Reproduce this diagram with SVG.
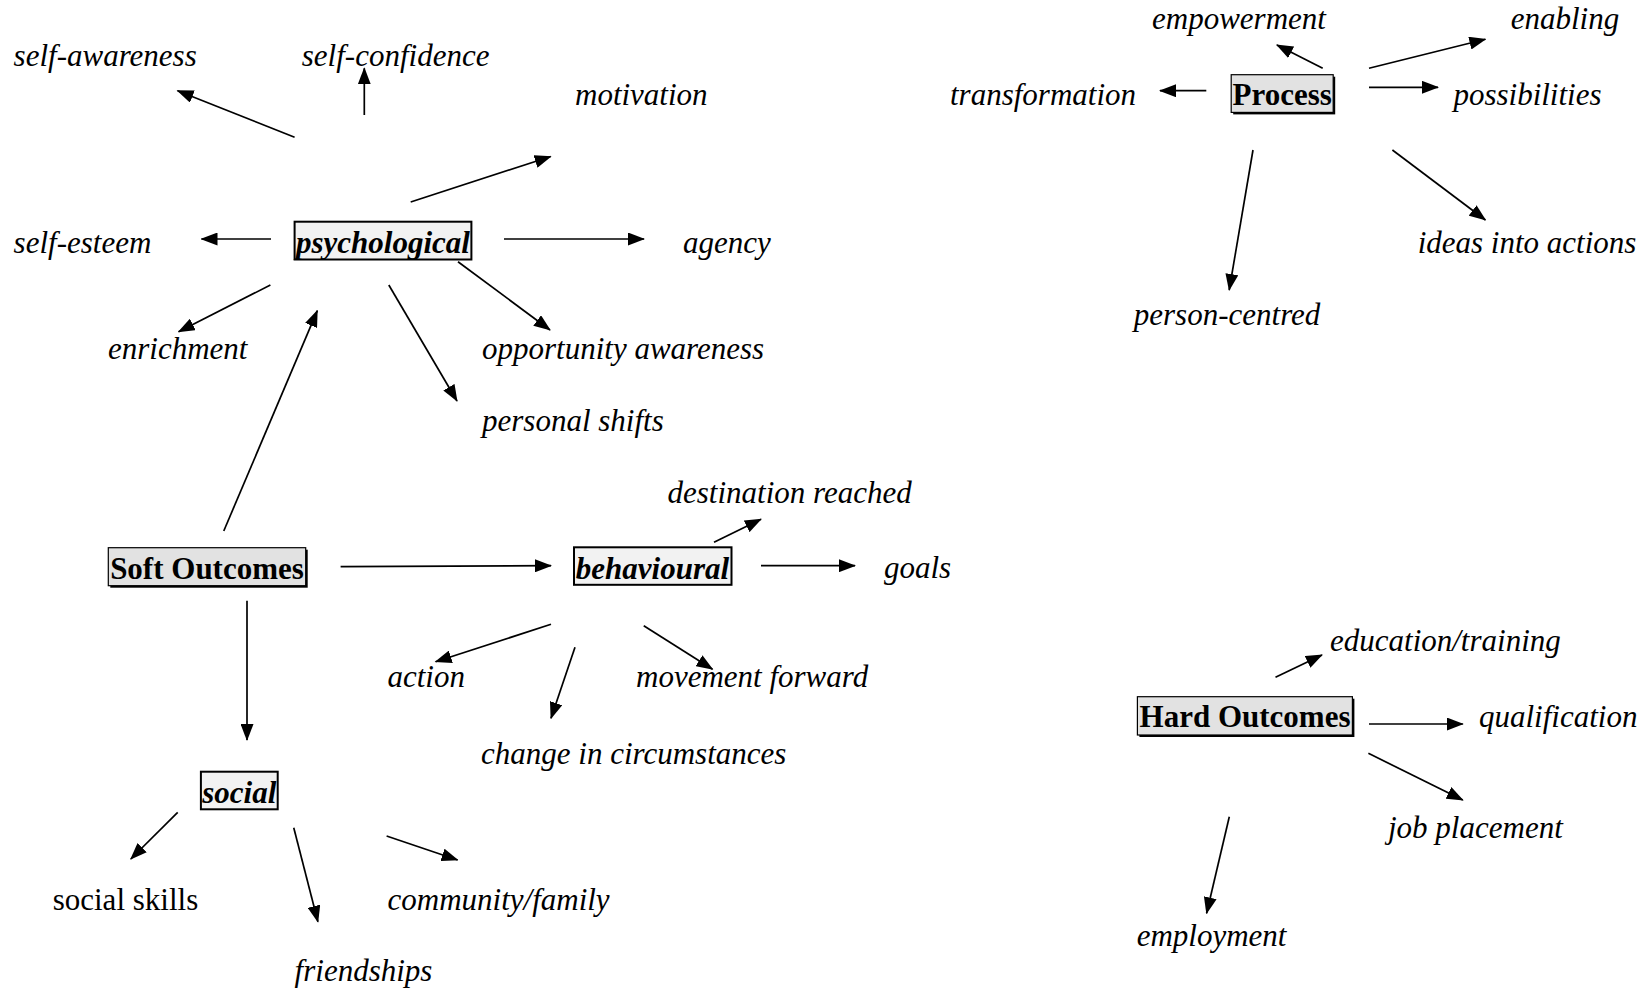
<svg xmlns="http://www.w3.org/2000/svg" width="1648" height="990" viewBox="0 0 1648 990">
  <style>
    .t { font-family: "Liberation Serif", "Times New Roman", serif; font-size: 31px; fill: #000; }
    .i { font-style: italic; }
    .b { font-weight: bold; }
    .bi { font-weight: bold; font-style: italic; }
    .c { stroke: #000; stroke-width: 1.7; fill: none; marker-end: url(#ah); }
    .box1 { fill: #f2f2f2; stroke: #000; stroke-width: 2; }
    .box2 { fill: #e2e2e2; stroke: #000; stroke-width: 1.2; }
    .sh { fill: #000; }
  </style>
  <defs>
    <marker id="ah" viewBox="0 0 17 13" refX="16" refY="6.5" markerWidth="17" markerHeight="13" markerUnits="userSpaceOnUse" orient="auto">
      <path d="M0,0 L17,6.5 L0,13 z" fill="#000"/>
    </marker>
  </defs>
  <rect width="1648" height="990" fill="#fff"/>

  <g id="connectors">
    <line class="c" x1="294.6" y1="137.3" x2="177.5" y2="90.7"/>
    <line class="c" x1="364.3" y1="115" x2="364.3" y2="68.3"/>
    <line class="c" x1="410.7" y1="202" x2="550.7" y2="156.5"/>
    <line class="c" x1="271" y1="239" x2="201.5" y2="239"/>
    <line class="c" x1="504" y1="239" x2="644" y2="239"/>
    <line class="c" x1="270.4" y1="285" x2="178.6" y2="331.7"/>
    <line class="c" x1="458" y1="261.7" x2="550" y2="330"/>
    <line class="c" x1="388.8" y1="285" x2="457" y2="401"/>
    <line class="c" x1="223.75" y1="531" x2="317.3" y2="310.7"/>

    <line class="c" x1="340.6" y1="566.7" x2="551" y2="565.7"/>
    <line class="c" x1="714" y1="542.3" x2="761" y2="519.3"/>
    <line class="c" x1="761" y1="565.7" x2="855" y2="565.7"/>
    <line class="c" x1="551" y1="624.3" x2="435.6" y2="661.7"/>
    <line class="c" x1="575" y1="647.3" x2="551" y2="718.3"/>
    <line class="c" x1="643.75" y1="625.7" x2="712.5" y2="669.3"/>
    <line class="c" x1="247" y1="600.7" x2="247" y2="740"/>

    <line class="c" x1="177.7" y1="812.3" x2="130.8" y2="859"/>
    <line class="c" x1="293.75" y1="827.7" x2="317.9" y2="921.7"/>
    <line class="c" x1="386.6" y1="836" x2="457.6" y2="860"/>

    <line class="c" x1="1322.7" y1="68.3" x2="1276.9" y2="45"/>
    <line class="c" x1="1369" y1="68.3" x2="1485.4" y2="39.3"/>
    <line class="c" x1="1206.3" y1="90.7" x2="1160" y2="90.7"/>
    <line class="c" x1="1369" y1="87.3" x2="1438" y2="87.3"/>
    <line class="c" x1="1392.4" y1="150" x2="1485.4" y2="220"/>
    <line class="c" x1="1253" y1="150" x2="1229.2" y2="290"/>

    <line class="c" x1="1275.5" y1="677.3" x2="1322" y2="655"/>
    <line class="c" x1="1369" y1="724" x2="1462.8" y2="724"/>
    <line class="c" x1="1368.4" y1="753.3" x2="1462.8" y2="800"/>
    <line class="c" x1="1229.3" y1="816.7" x2="1206.6" y2="913.3"/>
  </g>

  <g id="psychological">
    <rect class="box1" x="294.6" y="221.7" width="176.8" height="37.8"/>
    <text class="t bi" x="383" y="253" text-anchor="middle">psychological</text>
  </g>
  <g id="soft-outcomes">
    <rect class="sh" x="110.3" y="549.7" width="197.4" height="38"/>
    <rect class="box2" x="108.3" y="547.7" width="197.4" height="38"/>
    <text class="t b" x="207" y="578.7" text-anchor="middle">Soft Outcomes</text>
  </g>
  <g id="behavioural">
    <rect class="box1" x="574" y="547.3" width="157.5" height="37.5"/>
    <text class="t bi" x="652.5" y="579" text-anchor="middle">behavioural</text>
  </g>
  <g id="social">
    <rect class="box1" x="200.9" y="771.7" width="76.8" height="37.6"/>
    <text class="t bi" x="239.3" y="802.7" text-anchor="middle">social</text>
  </g>
  <g id="process">
    <rect class="sh" x="1233.2" y="76.7" width="102" height="37.7"/>
    <rect class="box2" x="1231.2" y="74.7" width="102" height="37.7"/>
    <text class="t b" x="1282.2" y="105" text-anchor="middle">Process</text>
  </g>
  <g id="hard-outcomes">
    <rect class="sh" x="1139.4" y="698.7" width="215" height="38.3"/>
    <rect class="box2" x="1137.4" y="696.7" width="215" height="38.3"/>
    <text class="t b" x="1245" y="727" text-anchor="middle">Hard Outcomes</text>
  </g>

  <g id="self-awareness"><text class="t i" x="13.6" y="65.5">self-awareness</text></g>
  <g id="self-confidence"><text class="t i" x="301.8" y="65.5">self-confidence</text></g>
  <g id="motivation"><text class="t i" x="575" y="105">motivation</text></g>
  <g id="self-esteem"><text class="t i" x="13.6" y="253">self-esteem</text></g>
  <g id="agency"><text class="t i" x="683" y="253">agency</text></g>
  <g id="enrichment"><text class="t i" x="108" y="359">enrichment</text></g>
  <g id="opportunity-awareness"><text class="t i" x="482" y="359">opportunity awareness</text></g>
  <g id="personal-shifts"><text class="t i" x="482" y="430.5">personal shifts</text></g>
  <g id="destination-reached"><text class="t i" x="667.5" y="503">destination reached</text></g>
  <g id="goals"><text class="t i" x="884" y="578">goals</text></g>
  <g id="action"><text class="t i" x="387.5" y="687">action</text></g>
  <g id="movement-forward"><text class="t i" x="636" y="687">movement forward</text></g>
  <g id="change-in-circumstances"><text class="t i" x="481" y="764.3">change in circumstances</text></g>
  <g id="social-skills"><text class="t" x="52.7" y="910.3">social skills</text></g>
  <g id="community-family"><text class="t i" x="387.5" y="910">community/family</text></g>
  <g id="friendships"><text class="t i" x="294.6" y="981">friendships</text></g>
  <g id="empowerment"><text class="t i" x="1152" y="29.3">empowerment</text></g>
  <g id="enabling"><text class="t i" x="1510.7" y="29.3">enabling</text></g>
  <g id="transformation"><text class="t i" x="950" y="104.7">transformation</text></g>
  <g id="possibilities"><text class="t i" x="1453.4" y="104.7">possibilities</text></g>
  <g id="ideas-into-actions"><text class="t i" x="1417.7" y="253">ideas into actions</text></g>
  <g id="person-centred"><text class="t i" x="1133.8" y="325.3">person-centred</text></g>
  <g id="education-training"><text class="t i" x="1330" y="651">education/training</text></g>
  <g id="qualification"><text class="t i" x="1479" y="727">qualification</text></g>
  <g id="job-placement"><text class="t i" x="1388" y="838.3">job placement</text></g>
  <g id="employment"><text class="t i" x="1136.7" y="946">employment</text></g>
</svg>
